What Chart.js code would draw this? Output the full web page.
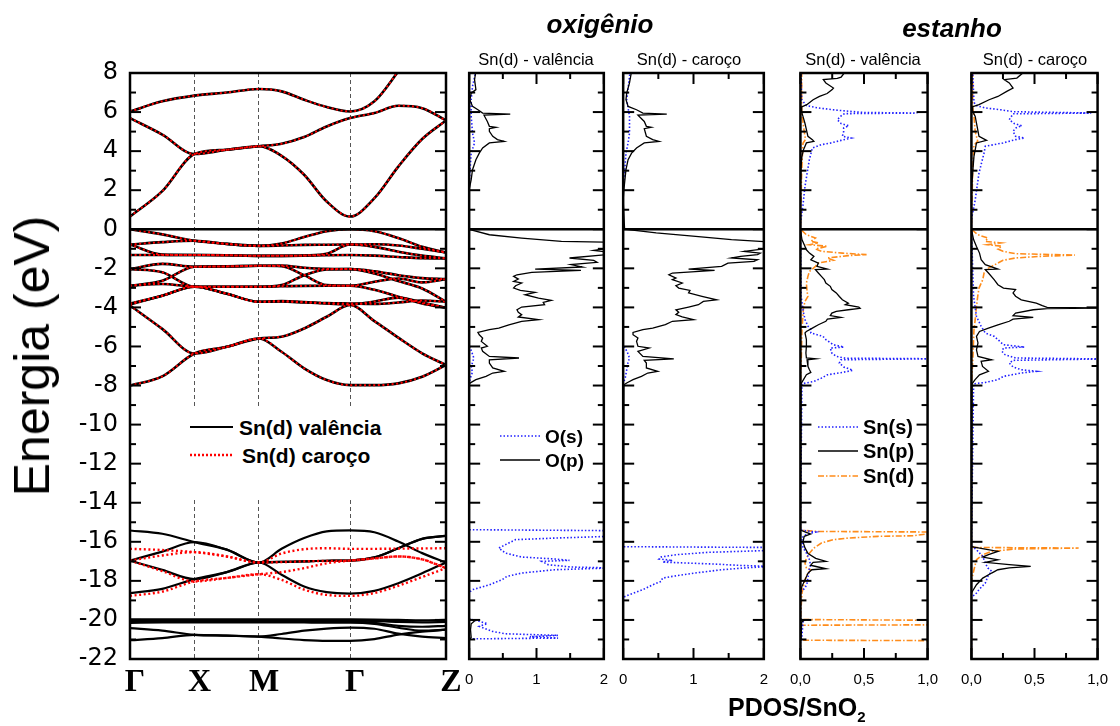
<!DOCTYPE html>
<html lang="pt">
<head>
<meta charset="UTF-8">
<title>SnO2 - bandas e PDOS</title>
<script src="https://cdn.jsdelivr.net/npm/chart.js"></script>
<style>
  body { margin:0; width:1120px; height:726px; overflow:hidden; position:relative; background:#fff; color:#000;
         font-family:'Liberation Sans', Arial, sans-serif; }
  canvas { position:absolute; top:0; }
  .t { position:absolute; white-space:nowrap; line-height:1; }
  .c { transform:translate(-50%,-50%); }
  .v { transform:translateY(-50%); }
  .smp { position:absolute; }
  .leg { font-weight:bold; }
</style>
</head>
<body>
<canvas id="bands" width="470" height="726" style="left:0"></canvas>
<canvas id="p1" width="167" height="726" style="left:453px"></canvas>
<canvas id="p2" width="173" height="726" style="left:607px"></canvas>
<canvas id="p3" width="172" height="726" style="left:778px"></canvas>
<canvas id="p4" width="171" height="726" style="left:949px"></canvas>

<!-- legend box of the band panel (white, hides the dashed k lines) -->
<div style="position:absolute;left:185px;top:408px;width:210px;height:92px;background:#fff"></div>
<svg class="smp" style="left:190px;top:422px" width="43" height="10"><line x1="0" y1="5" x2="43" y2="5" stroke="#000" stroke-width="2.2"/></svg>
<div class="t v leg" style="left:239px;top:427px;font-size:21px">Sn(d) valência</div>
<svg class="smp" style="left:190px;top:450px" width="43" height="10"><line x1="0" y1="5" x2="43" y2="5" stroke="#f00" stroke-width="2.5" stroke-dasharray="2 2"/></svg>
<div class="t v leg" style="left:242px;top:455px;font-size:21px">Sn(d) caroço</div>

<div class="t c" style="left:32px;top:356px;font-size:50px;transform:translate(-50%,-50%) rotate(-90deg)">Energia (eV)</div>

<div class="t c" style="left:600px;top:24px;font-size:26px;font-weight:bold;font-style:italic">oxigênio</div>
<div class="t c" style="left:952px;top:28px;font-size:26px;font-weight:bold;font-style:italic">estanho</div>
<div class="t c" style="left:536px;top:59px;font-size:16.5px">Sn(d) - valência</div>
<div class="t c" style="left:689px;top:59px;font-size:16.5px">Sn(d) - caroço</div>
<div class="t c" style="left:863px;top:59px;font-size:16.5px">Sn(d) - valência</div>
<div class="t c" style="left:1035px;top:59px;font-size:16.5px">Sn(d) - caroço</div>

<svg class="smp" style="left:500px;top:431px" width="40" height="10"><line x1="0" y1="5" x2="40" y2="5" stroke="#2020ff" stroke-width="1.6" stroke-dasharray="1.5 2"/></svg>
<div class="t v leg" style="left:545px;top:436px;font-size:19px">O(s)</div>
<svg class="smp" style="left:500px;top:455px" width="40" height="10"><line x1="0" y1="5" x2="40" y2="5" stroke="#000" stroke-width="1.4"/></svg>
<div class="t v leg" style="left:545px;top:460px;font-size:19px">O(p)</div>

<svg class="smp" style="left:818px;top:422px" width="40" height="10"><line x1="0" y1="5" x2="40" y2="5" stroke="#2020ff" stroke-width="1.6" stroke-dasharray="1.5 2"/></svg>
<div class="t v leg" style="left:863px;top:427px;font-size:20px">Sn(s)</div>
<svg class="smp" style="left:818px;top:446px" width="40" height="10"><line x1="0" y1="5" x2="40" y2="5" stroke="#000" stroke-width="1.4"/></svg>
<div class="t v leg" style="left:863px;top:451px;font-size:20px">Sn(p)</div>
<svg class="smp" style="left:818px;top:471px" width="40" height="10"><line x1="0" y1="5" x2="40" y2="5" stroke="#ff8c1a" stroke-width="1.6" stroke-dasharray="6 2 1.5 2"/></svg>
<div class="t v leg" style="left:863px;top:476px;font-size:20px">Sn(d)</div>

<div class="t v" style="left:728px;top:709px;font-size:25px;font-weight:bold">PDOS/SnO<sub style="font-size:15px">2</sub></div>

<script>
// ---- axes ----
const eTicks = [8, 6, 4, 2, 0, -2, -4, -6, -8, -10, -12, -14, -16, -18, -20, -22];
const eMinor = [7, 5, 3, 1, -1, -3, -5, -7, -9, -11, -13, -15, -17, -19, -21];
const kPoints = [0, 1, 2, 3.414, 4.9];
const kLabels = ['Γ', 'X', 'M', 'Γ', 'Z'];
const oTicks = [0, 1, 2];
const oMinor = [0.5, 1.5];
const snTicks = [0, 0.5, 1];
const snMinor = [0.25, 0.75];

// ---- band structure, energies (eV) along the path at kGrid ----
const kGrid = [0, 0.5, 1, 1.5, 2, 2.35, 2.7, 3.05, 3.414, 3.79, 4.16, 4.53, 4.9];

const condBands = [
  [0.65, 1.95, 3.85, 4.07, 4.25, 3.76, 2.79, 1.42, 0.65, 1.59, 3.21, 4.62, 5.57],
  [5.69, 4.85, 3.85, 4.07, 4.25, 4.38, 4.72, 5.26, 5.69, 5.95, 6.32, 6.2, 5.57],
  [6.03, 6.55, 6.84, 7.0, 7.18, 7.06, 6.63, 6.26, 6.03, 6.55, 8.08, 9.7, 10.5]
];

const valBands = [
  [0, -0.26, -0.59, -0.75, -0.85, -0.73, -0.4, -0.1, 0, -0.1, -0.45, -0.9, -1.19],
  [-0.78, -0.66, -0.59, -0.75, -0.85, -0.83, -0.8, -0.79, -0.78, -0.77, -0.83, -1.0, -1.19],
  [-0.78, -1.3, -1.32, -1.33, -1.36, -1.36, -1.34, -1.25, -0.78, -0.9, -1.15, -1.35, -1.49],
  [-1.32, -1.32, -1.32, -1.33, -1.36, -1.36, -1.35, -1.33, -1.32, -1.35, -1.42, -1.48, -1.49],
  [-2.04, -1.77, -1.92, -1.9, -1.87, -1.86, -1.97, -2.03, -2.04, -2.26, -2.65, -3.03, -3.71],
  [-2.04, -2.2, -2.94, -2.94, -2.94, -2.86, -2.35, -2.06, -2.04, -2.15, -2.35, -2.5, -2.55],
  [-2.89, -2.64, -1.92, -1.9, -1.87, -1.89, -2.35, -2.86, -2.89, -2.69, -2.52, -2.72, -2.55],
  [-2.89, -2.8, -2.94, -2.94, -2.94, -2.92, -2.9, -2.89, -2.89, -3.1, -3.45, -3.8, -4.02],
  [-3.8, -3.4, -2.94, -3.3, -3.71, -3.68, -3.72, -3.78, -3.8, -3.82, -3.75, -3.65, -3.71],
  [-3.85, -3.4, -2.94, -3.3, -3.71, -3.7, -3.75, -3.8, -3.85, -3.7, -3.5, -3.75, -4.02],
  [-3.9, -5.1, -6.36, -6.02, -5.59, -5.5, -5.08, -4.48, -3.88, -4.7, -5.55, -6.35, -6.95],
  [-8.0, -7.53, -6.36, -6.02, -5.59, -6.27, -7.12, -7.72, -7.98, -7.98, -7.89, -7.55, -6.95]
];

// O 2s bands, Sn(d) in valence
const o2sValence = [
  [-15.42, -15.59, -16.02, -16.4, -17.06, -16.36, -15.81, -15.47, -15.42, -15.51, -15.99, -16.58, -17.06],
  [-16.96, -16.5, -16.02, -16.4, -17.06, -17.03, -17.0, -16.97, -16.96, -16.8, -16.33, -15.85, -15.7],
  [-16.96, -17.44, -17.91, -17.55, -17.06, -17.69, -18.29, -18.58, -18.65, -18.51, -18.12, -17.61, -17.06],
  [-18.63, -18.41, -17.91, -17.55, -17.06, -17.03, -17.0, -16.97, -16.96, -16.8, -16.33, -15.85, -15.7]
];

// O 2s bands, Sn(d) in the core
const o2sCore = [
  [-16.36, -16.42, -16.53, -16.75, -17.06, -16.6, -16.38, -16.33, -16.36, -16.36, -16.35, -16.34, -16.33],
  [-16.96, -16.7, -16.53, -16.75, -17.06, -17.04, -17.0, -16.98, -16.96, -16.85, -16.75, -16.9, -17.35],
  [-16.96, -17.5, -18.03, -17.85, -17.66, -17.95, -18.45, -18.72, -18.77, -18.62, -18.25, -17.8, -17.35],
  [-18.77, -18.55, -18.03, -17.85, -17.66, -17.55, -17.35, -17.1, -16.96, -16.85, -16.75, -16.9, -17.35]
];

// Sn 4d bands (valence calculation only)
const sn4dBands = [
  [-19.97, -19.97, -19.97, -19.97, -19.97, -19.97, -19.97, -19.97, -19.97, -19.98, -20.0, -20.02, -20.0],
  [-20.02, -20.02, -20.02, -20.02, -20.02, -20.02, -20.02, -20.02, -20.02, -20.05, -20.1, -20.12, -20.1],
  [-20.08, -20.08, -20.08, -20.08, -20.08, -20.08, -20.08, -20.08, -20.07, -20.15, -20.3, -20.35, -20.3],
  [-20.15, -20.13, -20.12, -20.12, -20.12, -20.12, -20.13, -20.14, -20.14, -20.2, -20.4, -20.55, -20.5],
  [-20.42, -20.55, -20.76, -20.8, -20.85, -20.72, -20.55, -20.44, -20.39, -20.45, -20.7, -20.85, -20.93],
  [-21.04, -20.93, -20.76, -20.8, -20.85, -20.95, -21.03, -21.07, -21.07, -20.98, -20.75, -20.6, -20.5]
];

// ---- PDOS curves, [energy, PDOS] ----
const oxValS = [[8.1,0.10],[7.32,0.05],[6.63,0.03],[5.78,0.03],[4.93,0.05],[4.42,0.08],[3.9,0.03],[2.88,0.01],[2.03,0],[-5.9,0],[-6.3,0.04],[-6.6,0.07],[-6.8,0.05],[-7.1,0.03],[-7.3,0.05],[-7.6,0.02],[-7.9,0],
  [-15.38,0],[-15.43,2.1],[-15.72,2.1],[-15.81,1.27],[-15.89,0.69],[-16.06,0.59],[-16.32,0.44],[-16.58,0.54],[-16.78,0.78],[-16.88,1.27],[-16.95,1.49],[-17.0,1.08],[-17.17,1.17],[-17.29,1.51],[-17.34,2.1],[-17.43,1.27],[-17.6,0.78],[-17.77,0.56],[-17.94,0.49],[-18.2,0.30],[-18.45,0.05],[-18.59,0],
  [-19.95,0],[-20.07,0.15],[-20.19,0.27],[-20.33,0.15],[-20.59,0.35],[-20.71,0.54],[-20.79,1.32],[-20.86,0.9],[-20.93,1.32],[-20.97,0],[-22,0]];
const oxValP = [[8.1,0.10],[7.66,0.08],[7.15,0.10],[6.97,0.03],[6.63,0.01],[6.29,0.05],[6.12,0.13],[5.95,0.20],[5.89,0.61],[5.84,0.22],[5.52,0.27],[5.27,0.30],[5.22,0.40],[5.15,0.30],[5.01,0.30],[4.76,0.35],[4.59,0.42],[4.50,0.52],[4.42,0.30],[4.16,0.20],[3.90,0.15],[3.56,0.10],[3.05,0.05],[2.54,0.03],[2.03,0],
  [0,0],[-0.28,0.30],[-0.45,0.78],[-0.62,1.37],[-0.67,2.1],[-0.96,2.1],[-1.08,1.85],[-1.18,2.1],[-1.30,2.05],[-1.47,1.49],[-1.59,1.85],[-1.69,1.90],[-1.81,1.51],[-1.93,1.68],[-2.04,0.98],[-2.10,1.66],[-2.21,0.93],[-2.33,0.71],[-2.41,0.66],[-2.55,0.73],[-2.67,0.66],[-2.75,0.78],[-2.89,0.69],[-3.01,0.66],[-3.13,0.76],[-3.23,0.98],[-3.35,0.83],[-3.52,1.03],[-3.64,1.22],[-3.74,1.10],[-3.86,1.12],[-3.98,0.78],[-4.12,0.71],[-4.25,0.73],[-4.37,0.78],[-4.49,0.73],[-4.63,1.03],[-4.71,0.78],[-4.89,0.59],[-5.06,0.44],[-5.14,0.30],[-5.28,0.13],[-5.40,0.15],[-5.57,0.20],[-5.74,0.18],[-5.99,0.27],[-6.08,0.18],[-6.25,0.20],[-6.51,0.30],[-6.59,0.74],[-6.68,0.30],[-6.85,0.30],[-7.10,0.35],[-7.27,0.52],[-7.36,0.35],[-7.53,0.25],[-7.70,0.10],[-7.84,0.03],[-7.91,0],
  [-19.95,0],[-20.05,0.08],[-20.2,0.03],[-20.5,0.02],[-20.9,0.03],[-21.0,0],[-22,0]];

const oxCoreS = [[8.1,0.10],[6.63,0.05],[5.78,0.09],[4.93,0.09],[4.42,0.07],[3.9,0.04],[2.88,0.02],[2.0,0],[-5.9,0],[-6.3,0.06],[-6.6,0.09],[-6.8,0.07],[-7.2,0.05],[-7.6,0.03],[-7.9,0],
  [-16.25,0],[-16.29,2.1],[-16.44,2.1],[-16.54,1.21],[-16.66,0.75],[-16.78,0.54],[-16.88,0.51],[-16.95,0.70],[-17.04,0.56],[-17.14,1.30],[-17.21,1.67],[-17.26,2.1],[-17.34,1.72],[-17.43,1.40],[-17.6,1.02],[-17.77,0.70],[-17.86,0.56],[-18.03,0.54],[-18.2,0.42],[-18.45,0.28],[-18.76,0.05],[-18.85,0],[-22,0]];
const oxCoreP = [[8.1,0.12],[7.49,0.09],[6.97,0.05],[6.63,0.04],[6.29,0.07],[6.12,0.19],[5.95,0.28],[5.89,0.62],[5.84,0.21],[5.52,0.30],[5.27,0.33],[5.22,0.40],[5.15,0.30],[4.76,0.33],[4.59,0.42],[4.50,0.51],[4.42,0.30],[4.16,0.19],[3.90,0.12],[3.56,0.07],[3.05,0.04],[2.03,0.01],[1.5,0],
  [0,0.02],[-0.19,0.47],[-0.36,1.03],[-0.53,1.54],[-0.65,2.1],[-0.96,2.1],[-1.13,1.72],[-1.22,1.95],[-1.30,1.91],[-1.39,1.67],[-1.47,1.54],[-1.56,1.91],[-1.64,1.86],[-1.73,1.49],[-1.90,1.40],[-2.04,0.93],[-2.10,1.30],[-2.24,0.70],[-2.33,0.65],[-2.50,0.75],[-2.58,0.70],[-2.75,0.84],[-2.89,0.75],[-3.01,0.79],[-3.13,0.95],[-3.26,0.93],[-3.43,1.12],[-3.61,1.33],[-3.69,1.14],[-3.86,1.07],[-3.98,0.93],[-4.12,0.75],[-4.25,0.79],[-4.37,0.75],[-4.49,0.84],[-4.63,1.00],[-4.71,0.70],[-4.88,0.60],[-5.06,0.42],[-5.14,0.28],[-5.28,0.14],[-5.40,0.14],[-5.57,0.21],[-5.74,0.19],[-5.99,0.21],[-6.08,0.37],[-6.25,0.21],[-6.51,0.28],[-6.64,0.72],[-6.71,0.30],[-6.85,0.33],[-7.10,0.33],[-7.27,0.49],[-7.36,0.35],[-7.53,0.26],[-7.70,0.14],[-7.87,0.05],[-7.96,0.01],[-8.05,0],[-22,0]];

const snValS = [[8.1,0.005],[6.63,0.01],[6.33,0.047],[6.21,0.14],[6.1,0.28],[5.98,0.49],[5.95,0.92],[5.92,0.35],[5.87,0.33],[5.61,0.29],[5.41,0.32],[5.30,0.38],[5.18,0.34],[5.01,0.34],[4.76,0.33],[4.67,0.40],[4.55,0.32],[4.42,0.24],[4.33,0.165],[4.16,0.094],[3.56,0.07],[2.2,0.036],[1.17,0.019],[0.3,0],
  [-3.4,0.005],[-4.12,0.02],[-4.63,0.036],[-4.97,0.06],[-5.14,0.082],[-5.31,0.082],[-5.48,0.177],[-5.65,0.20],[-5.91,0.259],[-6.03,0.341],[-6.08,0.235],[-6.34,0.247],[-6.51,0.282],[-6.6,0.353],[-6.63,1.05],[-6.68,0.318],[-6.85,0.306],[-7.05,0.341],[-7.22,0.412],[-7.33,0.33],[-7.45,0.212],[-7.62,0.165],[-7.79,0.106],[-7.91,0.012],
  [-15.4,0],[-15.5,0.12],[-15.6,0.05],[-15.8,0.01],[-16.3,0.02],[-16.6,0.05],[-16.9,0.07],[-17.2,0.08],[-17.4,0.07],[-17.8,0.06],[-18.2,0.05],[-18.4,0.03],[-18.6,0],[-19.95,0],[-20.1,0.02],[-21.0,0.01],[-21.1,0],[-22,0]];
const snValP = [[8.1,0.36],[7.96,0.34],[7.79,0.32],[7.72,0.29],[7.66,0.18],[7.49,0.20],[7.23,0.26],[7.15,0.25],[6.95,0.21],[6.8,0.15],[6.63,0.10],[6.38,0.05],[6.26,0.01],[6.0,0.01],[5.78,0.02],[5.44,0.035],[5.1,0.047],[4.76,0.059],[4.59,0.094],[4.5,0.106],[4.42,0.047],[4.25,0.036],[4.07,0.024],[3.73,0.012],[3.22,0.005],[2.2,0],
  [0,0],[-0.53,0.012],[-0.88,0.036],[-1.05,0.047],[-1.22,0.071],[-1.39,0.106],[-1.56,0.082],[-1.73,0.141],[-1.9,0.13],[-2.04,0.212],[-2.07,0.118],[-2.24,0.141],[-2.41,0.165],[-2.58,0.188],[-2.75,0.20],[-2.92,0.235],[-3.09,0.247],[-3.26,0.282],[-3.44,0.306],[-3.61,0.33],[-3.78,0.377],[-3.86,0.353],[-3.98,0.459],[-4.05,0.47],[-4.12,0.377],[-4.2,0.282],[-4.29,0.247],[-4.42,0.235],[-4.51,0.318],[-4.6,0.212],[-4.71,0.20],[-4.89,0.141],[-5.06,0.094],[-5.23,0.047],[-5.31,0.036],[-5.65,0.047],[-5.99,0.047],[-6.34,0.043],[-6.59,0.047],[-6.63,0.118],[-6.68,0.052],[-7.02,0.059],[-7.19,0.071],[-7.33,0.082],[-7.45,0.047],[-7.7,0.024],[-7.91,0.005],
  [-15.4,0],[-15.5,0.04],[-15.6,0.08],[-15.72,0.03],[-16.0,0.02],[-16.3,0.035],[-16.6,0.06],[-16.85,0.12],[-17.0,0.2],[-17.05,0.1],[-17.2,0.08],[-17.38,0.2],[-17.43,0.09],[-17.6,0.06],[-17.94,0.036],[-18.28,0.012],[-18.62,0],[-19.95,0],[-20.02,0.03],[-20.1,0.01],[-21.0,0.005],[-21.1,0],[-22,0]];
const snValD = [[8.1,0.01],[6.0,0.01],[5.5,0.02],[5.0,0.03],[4.6,0.04],[4.4,0.02],[3.0,0.01],[0.1,0],
  [0,0],[-0.28,0.047],[-0.45,0.118],[-0.62,0.082],[-0.70,0.141],[-0.79,0.071],[-0.87,0.212],[-1.01,0.118],[-1.13,0.165],[-1.22,0.33],[-1.3,0.52],[-1.35,0.377],[-1.47,0.212],[-1.59,0.259],[-1.73,0.141],[-1.9,0.118],[-2.04,0.094],[-2.16,0.071],[-2.41,0.059],[-2.75,0.047],[-3.18,0.052],[-3.44,0.059],[-3.69,0.036],[-4.03,0.024],[-4.46,0.019],[-5.14,0.012],[-5.99,0.009],[-6.85,0.006],[-7.87,0],
  [-15.4,0],[-15.47,0.13],[-15.5,1.1],[-15.69,0.89],[-15.72,0.61],[-15.81,0.377],[-15.89,0.259],[-16.06,0.165],[-16.32,0.106],[-16.58,0.071],[-16.83,0.047],[-17.09,0.036],[-17.34,0.047],[-17.43,0.082],[-17.6,0.059],[-17.94,0.036],[-18.28,0.024],[-18.62,0.012],[-19.98,0],[-20.02,1.1],[-20.25,1.1],[-20.27,0],[-21.04,0],[-21.06,1.1],[-22.5,1.1]];

const snCoreS = [[8.1,0.01],[6.5,0.02],[6.33,0.04],[6.21,0.11],[6.12,0.23],[6.02,0.33],[5.95,0.95],[5.91,0.33],[5.61,0.30],[5.41,0.34],[5.30,0.40],[5.18,0.35],[5.01,0.33],[4.76,0.35],[4.67,0.42],[4.59,0.35],[4.42,0.25],[4.25,0.11],[3.9,0.10],[2.88,0.06],[1.5,0.03],[0.5,0],
  [0,0],[-3.44,0.017],[-4.46,0.04],[-4.97,0.077],[-5.31,0.11],[-5.48,0.18],[-5.65,0.21],[-5.91,0.254],[-6.03,0.42],[-6.08,0.254],[-6.25,0.242],[-6.42,0.266],[-6.59,0.35],[-6.64,1.05],[-6.71,0.33],[-6.85,0.30],[-7.05,0.33],[-7.19,0.395],[-7.27,0.514],[-7.36,0.395],[-7.53,0.254],[-7.7,0.21],[-7.84,0.11],[-7.91,0.017],
  [-16.2,0],[-16.41,0.04],[-16.75,0.09],[-17.09,0.11],[-17.34,0.13],[-17.51,0.16],[-17.77,0.13],[-18.11,0.11],[-18.45,0.06],[-18.71,0.03],[-18.8,0],[-22,0]];
const snCoreP = [[8.1,0.41],[7.96,0.40],[7.74,0.36],[7.66,0.26],[7.49,0.30],[7.23,0.33],[7.06,0.28],[6.8,0.21],[6.63,0.14],[6.38,0.06],[6.26,0.005],[6.04,0.01],[5.78,0.03],[5.44,0.04],[5.1,0.05],[4.76,0.06],[4.55,0.12],[4.42,0.04],[4.07,0.03],[3.73,0.02],[2.88,0.01],[2.0,0],
  [0,0],[-0.53,0.017],[-0.88,0.04],[-1.22,0.064],[-1.56,0.077],[-1.81,0.11],[-2.04,0.21],[-2.07,0.11],[-2.24,0.135],[-2.58,0.18],[-2.84,0.21],[-3.01,0.254],[-3.09,0.35],[-3.26,0.33],[-3.43,0.35],[-3.61,0.395],[-3.78,0.514],[-3.91,0.562],[-4.0,0.6],[-4.03,1.05],[-4.06,0.6],[-4.12,0.49],[-4.29,0.35],[-4.42,0.33],[-4.51,0.49],[-4.6,0.33],[-4.71,0.30],[-4.89,0.21],[-5.06,0.135],[-5.23,0.064],[-5.48,0.04],[-5.82,0.052],[-6.17,0.04],[-6.51,0.052],[-6.68,0.16],[-6.76,0.077],[-7.02,0.088],[-7.27,0.135],[-7.45,0.064],[-7.7,0.029],[-7.91,0.005],
  [-16.25,0],[-16.37,0.11],[-16.49,0.21],[-16.66,0.135],[-16.78,0.09],[-16.92,0.21],[-17.05,0.11],[-17.17,0.30],[-17.26,0.47],[-17.34,0.30],[-17.43,0.21],[-17.6,0.16],[-17.86,0.09],[-18.2,0.04],[-18.62,0],[-22,0]];
const snCoreD = [[8.1,0.01],[6.2,0.01],[5.8,0.02],[5.0,0.03],[4.5,0.05],[4.3,0.02],[3.0,0.01],[0.1,0],
  [0,0],[-0.28,0.05],[-0.45,0.13],[-0.62,0.11],[-0.70,0.23],[-0.79,0.13],[-0.87,0.24],[-1.01,0.21],[-1.13,0.25],[-1.25,0.35],[-1.32,0.82],[-1.39,0.54],[-1.47,0.35],[-1.59,0.25],[-1.73,0.21],[-1.9,0.16],[-2.04,0.12],[-2.24,0.10],[-2.58,0.09],[-3.01,0.06],[-3.43,0.05],[-3.95,0.04],[-4.63,0.03],[-5.14,0.02],[-6.85,0.01],[-7.9,0],
  [-16.2,0],[-16.29,0.02],[-16.32,0.85],[-16.37,0.35],[-16.49,0.16],[-16.66,0.09],[-16.92,0.04],[-17.43,0.02],[-18.0,0],[-22,0]];

Chart.defaults.font.family = "'Liberation Sans', Arial, sans-serif";
Chart.defaults.color = '#000';

// frame + inward ticks on every side
const frame = {
  id: 'frame',
  afterDatasetsDraw(chart, args, o) {
    const {ctx, chartArea: a} = chart;
    const xs = chart.scales.x, ys = chart.scales.y;
    ctx.save();
    ctx.strokeStyle = '#000';
    ctx.lineWidth = 2;
    const seg = (x1, y1, x2, y2) => { ctx.beginPath(); ctx.moveTo(x1, y1); ctx.lineTo(x2, y2); ctx.stroke(); };
    const yMarks = (vals, len) => vals.forEach(v => {
      const p = ys.getPixelForValue(v);
      seg(a.left, p, a.left + len, p); seg(a.right, p, a.right - len, p);
    });
    const xMarks = (vals, len) => vals.forEach(v => {
      const p = xs.getPixelForValue(v);
      seg(p, a.top, p, a.top + len); seg(p, a.bottom, p, a.bottom - len);
    });
    yMarks(o.yMajor || [], 11); yMarks(o.yMinor || [], 6);
    xMarks(o.xMajor || [], 11); xMarks(o.xMinor || [], 6);
    ctx.lineWidth = 2.5;
    ctx.strokeRect(a.left, a.top, a.right - a.left, a.bottom - a.top);
    ctx.restore();
  }
};

function bandSets(rows, color, width, dash) {
  return rows.map(r => ({
    data: r.map((e, i) => ({x: kGrid[i], y: e})),
    borderColor: color, borderWidth: width, borderDash: dash,
    pointRadius: 0, cubicInterpolationMode: 'monotone', fill: false
  }));
}

function fermi(xMin, xMax) {
  return {data: [{x: xMin, y: 0}, {x: xMax, y: 0}], borderColor: '#000', borderWidth: 2.5, pointRadius: 0};
}

// red dots sit on top of the black lines, black still shows between them
const redDot = [2, 2.6];
new Chart(document.getElementById('bands'), {
  type: 'line',
  data: {datasets: [
    fermi(kPoints[0], kPoints[kPoints.length - 1]),
    ...bandSets(condBands, '#ff0000', 2, redDot),
    ...bandSets(valBands, '#ff0000', 2, redDot),
    ...bandSets(o2sCore, '#ff0000', 2.4, redDot),
    ...bandSets(condBands, '#000', 2.6, []),
    ...bandSets(valBands, '#000', 2.6, []),
    ...bandSets(o2sValence, '#000', 2.2, []),
    ...bandSets(sn4dBands, '#000', 2.2, [])
  ]},
  options: {
    responsive: false, animation: false, events: [],
    layout: {padding: {left: 0, right: 24, top: 73, bottom: 0}},
    plugins: {legend: {display: false}, tooltip: {enabled: false},
              frame: {yMajor: eTicks, yMinor: eMinor}},
    scales: {
      x: {type: 'linear', min: kPoints[0], max: kPoints[kPoints.length - 1],
          afterBuildTicks: s => { s.ticks = kPoints.map(v => ({value: v})); },
          afterFit: s => { s.height = 67; },
          ticks: {callback: (v, i) => kLabels[i], autoSkip: false, maxRotation: 0, labelOffset: 5, padding: 5,
                  font: {family: "'Liberation Serif', serif", size: 32, weight: 'bold'}},
          grid: {color: '#555', lineWidth: 1, drawTicks: false},
          border: {display: false, dash: [4, 3]}},
      y: {type: 'linear', min: -22, max: 8,
          afterBuildTicks: s => { s.ticks = eTicks.map(v => ({value: v})); },
          afterFit: s => { s.width = 130; },
          ticks: {padding: 12, font: {family: "'DejaVu Sans', sans-serif", size: 24}},
          grid: {display: false, drawTicks: false}, border: {display: false}}
    }
  },
  plugins: [frame]
});

const styles = {
  s: {borderColor: '#2020ff', borderWidth: 1.6, borderDash: [1.5, 2]},
  p: {borderColor: '#000', borderWidth: 1.3, borderDash: []},
  d: {borderColor: '#ff8c1a', borderWidth: 1.6, borderDash: [6, 2, 1.5, 2]}
};

function pdosChart(id, xMax, major, minor, fmt, curves) {
  new Chart(document.getElementById(id), {
    type: 'line',
    data: {datasets: [
      fermi(0, xMax),
      ...curves.map(([pts, st]) => Object.assign({
        data: pts.map(([e, d]) => ({x: d, y: e})),
        pointRadius: 0, tension: 0, fill: false
      }, styles[st]))
    ]},
    options: {
      responsive: false, animation: false, events: [],
      layout: {padding: {left: 15, right: 15, top: 73, bottom: 0}},
      plugins: {legend: {display: false}, tooltip: {enabled: false},
                frame: {yMajor: eTicks, yMinor: eMinor, xMajor: major, xMinor: minor}},
      scales: {
        x: {type: 'linear', min: 0, max: xMax,
            afterBuildTicks: s => { s.ticks = major.map(v => ({value: v})); },
            afterFit: s => { s.height = 67; },
            ticks: {callback: v => fmt(v), autoSkip: false, maxRotation: 0, padding: 12, font: {size: 15}},
            grid: {display: false, drawTicks: false}, border: {display: false}},
        y: {display: false, type: 'linear', min: -22, max: 8}
      }
    },
    plugins: [frame]
  });
}

const fmtO = v => String(v);
const fmtSn = v => v.toFixed(1).replace('.', ',');
pdosChart('p1', 2, oTicks, oMinor, fmtO, [[oxValP, 'p'], [oxValS, 's']]);
pdosChart('p2', 2, oTicks, oMinor, fmtO, [[oxCoreP, 'p'], [oxCoreS, 's']]);
pdosChart('p3', 1, snTicks, snMinor, fmtSn, [[snValP, 'p'], [snValS, 's'], [snValD, 'd']]);
pdosChart('p4', 1, snTicks, snMinor, fmtSn, [[snCoreP, 'p'], [snCoreS, 's'], [snCoreD, 'd']]);
</script>
</body>
</html>
